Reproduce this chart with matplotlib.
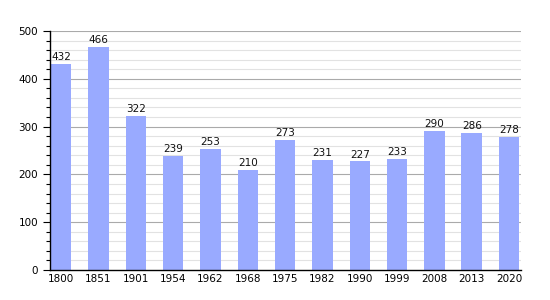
import matplotlib
matplotlib.use("Agg")
import matplotlib.pyplot as plt
import numpy as np

years = ["1800", "1851", "1901", "1954", "1962", "1968", "1975", "1982", "1990", "1999", "2008", "2013", "2020"]
population = [432, 466, 322, 239, 253, 210, 273, 231, 227, 233, 290, 286, 278]

fig = plt.figure(figsize=(5.5, 3.0), dpi=100)
ax = fig.add_axes([50/550, 30/300, 471/550, 239/300])

x = np.arange(len(years))
ax.set_ylim(0, 500)
ax.set_xlim(-0.3, len(years) - 1 + 0.32)
for y in range(20, 500, 20):
    if y % 100:
        ax.axhline(y, color="#e2e2e2", lw=0.8, zorder=0)
for y in range(100, 501, 100):
    ax.axhline(y, color="#aaaaaa", lw=0.8, zorder=0)

ax.bar(x, population, width=0.55, color="#99aaff", zorder=2)
for xi, v in zip(x, population):
    ax.text(xi, v + 4, str(v), ha="center", va="bottom", fontsize=7.5, color="#111111")

ax.set_xticks(x)
ax.set_xticklabels(years, fontsize=7.5)
ax.set_yticks(range(0, 501, 100))
ax.set_yticklabels([str(v) for v in range(0, 501, 100)], fontsize=7.5)
ax.set_yticks(range(0, 501, 20), minor=True)
ax.tick_params(axis="x", length=0, pad=3)
ax.tick_params(axis="y", which="major", length=5, width=0.8)
ax.tick_params(axis="y", which="minor", length=3, width=0.8)
for s in ["top", "right"]:
    ax.spines[s].set_visible(False)
ax.spines["left"].set_linewidth(1)
ax.spines["bottom"].set_linewidth(1)

fig.savefig("out.png", dpi=100)
